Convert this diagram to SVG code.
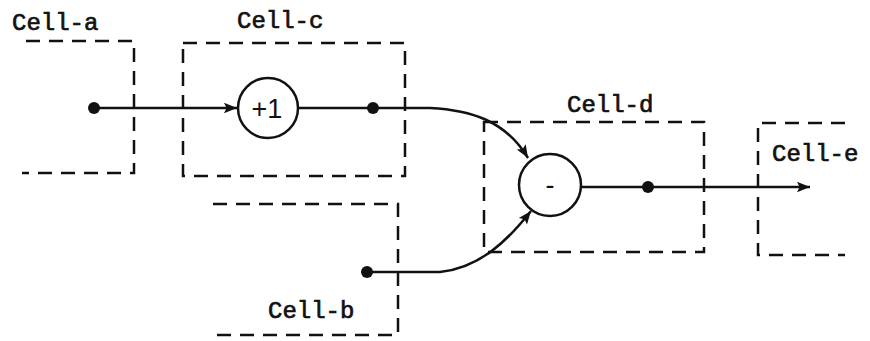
<svg xmlns="http://www.w3.org/2000/svg" width="870" height="341" viewBox="0 0 870 341">
<defs>
<style>
.box{fill:none;stroke:#111;stroke-width:2.5;stroke-dasharray:14 9}
.ln{fill:none;stroke:#111;stroke-width:2.5}
.lbl{font-family:"Liberation Mono",monospace;font-size:24px;fill:#111;stroke:#111;stroke-width:0.7}
.op{font-family:"Liberation Sans",sans-serif;font-size:27px;fill:#111;text-anchor:middle}
.dot{fill:#111}
.circ{fill:#fff;stroke:#111;stroke-width:2.5}
</style>
<marker id="arr" viewBox="0 0 10 10" refX="10" refY="5" markerWidth="18" markerHeight="13" markerUnits="userSpaceOnUse" orient="auto">
<path d="M0,1 L10,5 L0,9 L2,5 Z" fill="#111"/>
</marker>
</defs>
<rect width="870" height="341" fill="#fff"/>
<g id="cell-a">
<path class="box" d="M26,41 H134 V173 H22"/>
<text class="lbl" x="12" y="30">Cell-a</text>
</g>
<g id="cell-c">
<rect class="box" x="183" y="43" width="222" height="133"/>
<text class="lbl" x="237" y="28">Cell-c</text>
</g>
<g id="cell-b">
<path class="box" d="M213,204 H398 V335 H208"/>
<text class="lbl" x="268" y="318">Cell-b</text>
</g>
<g id="cell-d">
<rect class="box" x="484" y="122" width="220" height="130"/>
<text class="lbl" x="567" y="112">Cell-d</text>
</g>
<g id="cell-e">
<path class="box" d="M845,123 H758 V255 H845"/>
<text class="lbl" x="772" y="161">Cell-e</text>
</g>
<g id="connectors">
<line class="ln" x1="94" y1="108" x2="237" y2="108" marker-end="url(#arr)"/>
<path class="ln" d="M298,108 H430 C470,110 505,120 528,158" marker-end="url(#arr)"/>
<path class="ln" d="M367,272 H440 C480,268 508,240 531,211" marker-end="url(#arr)"/>
<line class="ln" x1="581" y1="187" x2="810" y2="187" marker-end="url(#arr)"/>
</g>
<g id="op-plus1">
<circle class="circ" cx="268" cy="108" r="30"/>
<text class="op" x="267" y="118">+1</text>
</g>
<g id="op-minus">
<circle class="circ" cx="550" cy="185" r="31"/>
<text class="op" x="550" y="194">-</text>
</g>
<g id="dots">
<circle class="dot" cx="94" cy="108" r="6"/>
<circle class="dot" cx="373" cy="108" r="6"/>
<circle class="dot" cx="367" cy="272" r="6"/>
<circle class="dot" cx="648" cy="187" r="6"/>
</g>
</svg>
